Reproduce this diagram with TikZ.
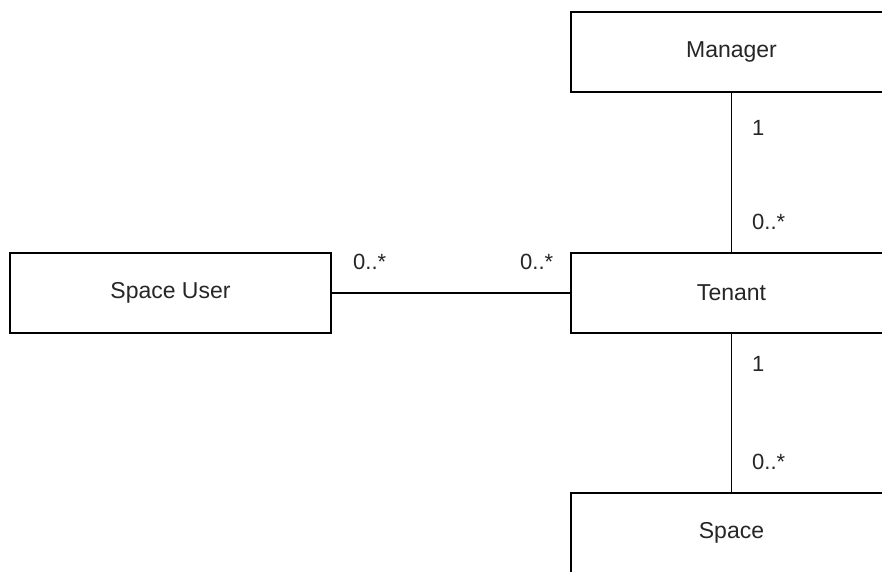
\documentclass[tikz,border=0pt]{standalone}
\usepackage{fontspec}
\setmainfont{Liberation Sans}
\begin{document}
\begin{tikzpicture}[x=1pt,y=1pt,
  cls/.style={draw=black, line width=1.6pt, fill=white, minimum width=321pt, minimum height=80pt, inner sep=0pt, font=\fontsize{23}{27}\selectfont, text=black!85},
  conn/.style={draw=black, line width=1.6pt},
  mult/.style={font=\fontsize{22}{26}\selectfont, text=black!85, inner sep=0pt, anchor=west}]
\useasboundingbox (0,0) rectangle (882,-571);
\clip (0,0) rectangle (882,-571);
\fill[white] (0,0) rectangle (882,-571);
\node[cls] (manager) at (731.5,-52) {Manager};
\node[cls] (tenant) at (731.5,-293) {Tenant};
\node[cls] (user) at (170.5,-293) {Space User};
\node[cls] (space) at (731.5,-533) {Space};
\draw[conn] (manager.south) -- (tenant.north);
\draw[conn] (tenant.south) -- (space.north);
\draw[conn] (user.east) -- (tenant.west);
\node[mult] (m1) at (752,-128) {1};
\node[mult] (m2) at (752,-222) {0..*};
\node[mult] (m3) at (752,-364) {1};
\node[mult] (m4) at (752,-462) {0..*};
\node[mult] (m5) at (353,-262) {0..*};
\node[mult] (m6) at (520,-262) {0..*};
\end{tikzpicture}
\end{document}
